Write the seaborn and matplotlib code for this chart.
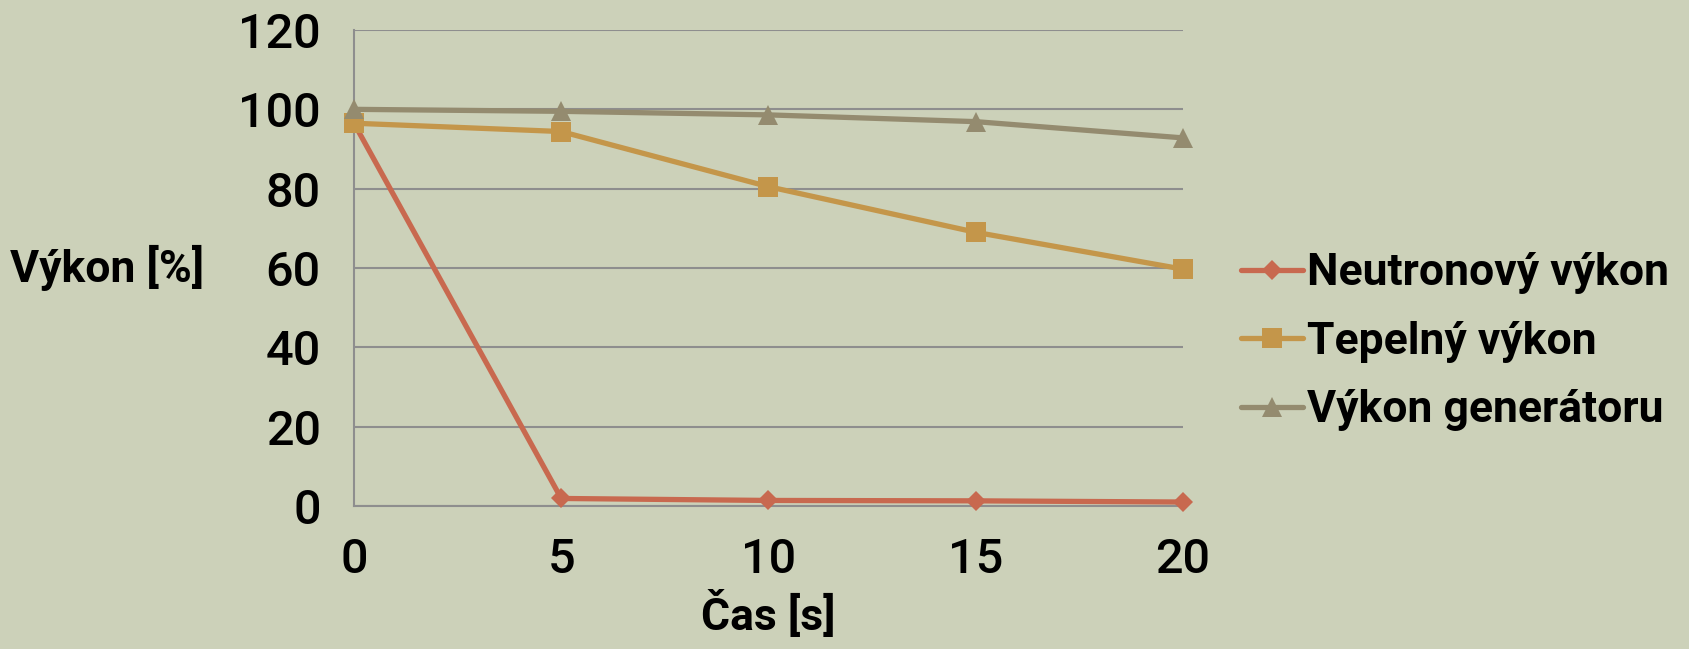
import matplotlib
matplotlib.use("Agg")
import matplotlib.pyplot as plt
import seaborn as sns
import pandas as pd

# Time axis [s] and power curves [%]
cas = [0, 5, 10, 15, 20]
neutronovy = [96.5, 1.9, 1.4, 1.3, 1.0]
tepelny = [96.5, 94.4, 80.5, 69.0, 59.7]
generator = [100.0, 99.5, 98.6, 96.9, 92.8]

names = ["Neutronový výkon", "Tepelný výkon", "Výkon generátoru"]
colors = ["#C8694F", "#C4964A", "#948B6F"]
markers = ["D", "s", "^"]
msizes = [10, 14, 14]

bg = "#CCD1B9"
grid_c = "#8E8E8E"

sns.set_theme(style="white")
plt.rcParams["font.family"] = ["Roboto", "DejaVu Sans"]
plt.rcParams["text.color"] = "black"
plt.rcParams["axes.labelcolor"] = "black"

df = pd.DataFrame({
    "Čas [s]": cas * 3,
    "Výkon [%]": neutronovy + tepelny + generator,
    "série": sum([[n] * len(cas) for n in names], []),
})

fig = plt.figure(figsize=(16.9, 6.49), dpi=100, facecolor=bg)
ax = fig.add_axes([354 / 1690, 1 - 506 / 649, (1183 - 354) / 1690, (506 - 30) / 649])
ax.set_facecolor(bg)

for name, col, mk, ms in zip(names, colors, markers, msizes):
    sub = df[df["série"] == name]
    sns.lineplot(data=sub, x="Čas [s]", y="Výkon [%]", ax=ax, color=col,
                 linewidth=3.8, marker=mk, markersize=ms, markeredgewidth=0,
                 label=name, clip_on=False, zorder=3)

ax.set_xlim(0, 20)
ax.set_ylim(0, 120)
ax.set_xticks(cas)
ax.set_yticks(range(0, 121, 20))
ax.yaxis.grid(True, color=grid_c, linewidth=1.5)
ax.xaxis.grid(False)
for s in ["top", "right"]:
    ax.spines[s].set_visible(False)
for s in ["left", "bottom"]:
    ax.spines[s].set_color(grid_c)
    ax.spines[s].set_linewidth(1.5)

ax.tick_params(axis="both", which="major", direction="out", length=12, width=1.5,
               color=grid_c, labelsize=35, labelcolor="black")
ax.tick_params(axis="y", pad=12)
ax.tick_params(axis="x", pad=10)
for lab in ax.get_xticklabels() + ax.get_yticklabels():
    lab.set_fontweight("medium")

ax.set_xlabel("Čas [s]", fontsize=32, fontweight="bold", labelpad=6)
ax.set_ylabel("Výkon [%]", fontsize=32, fontweight="bold", rotation=0)
ax.yaxis.set_label_coords(-0.415, 0.5, transform=ax.transAxes)
ax.yaxis.label.set_horizontalalignment("left")
ax.yaxis.label.set_verticalalignment("center")

leg = ax.legend(loc="center left", bbox_to_anchor=(1.0, 0.345), frameon=False,
                prop={"weight": "bold", "size": 32}, handlelength=1.4,
                handletextpad=0.1, labelspacing=0.6, borderaxespad=0.9)

fig.savefig("out.png", dpi=100, facecolor=bg)
